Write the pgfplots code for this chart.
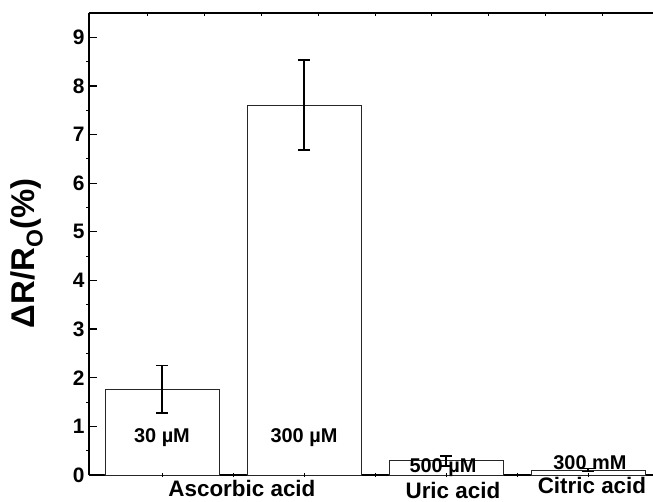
\documentclass[border=0pt]{standalone}
\usepackage{pgfplots}
\pgfplotsset{compat=1.18}
\usepackage{fontspec}
\setmainfont{Liberation Sans}

\pgfplotstableread{
x  y     ep    em
1  1.76  0.49  0.49
2  7.60  0.93  0.92
3  0.29  0.10  0.10
4  0.10  0.03  0.03
}\responsedata

\begin{document}
\begin{tikzpicture}
\begin{axis}[
  at={(0,0)}, anchor=south west,
  scale only axis, width=564bp, height=462bp,
  xmin=0.486, xmax=4.458, ymin=0, ymax=9.5,
  axis x line=bottom, axis y line=left,
  axis line style={-, line width=1.3bp, black},
  clip=false,
  xtick=\empty,
  ytick={0,...,9},
  tick align=inside,
  major tick length=8bp,
  y tick style={line width=1.3bp, black},
  yticklabel style={font=\fontsize{21}{24}\selectfont\bfseries, xshift=-1bp},
  /pgf/number format/assume math mode=true,
  ylabel={\textbf{ΔR/R\textsubscript{O}(\%)}},
  ylabel style={at={(axis description cs:-0.11,0.48)}, anchor=center,
                font=\fontsize{33}{36}\selectfont},
  ybar, bar width=114bp, bar shift=0pt,
]
\addplot[draw=black!85, line width=0.9bp, fill=white,
  error bars/.cd, y dir=both, y explicit,
  error bar style={line width=1.6bp, black},
  error mark options={rotate=90, line width=1.6bp, black, mark size=6bp}]
  table[x=x, y=y, y error plus=ep, y error minus=em] {\responsedata};

% frame: top spine and small ticks
\draw[line width=1.3bp] (rel axis cs:0,1) -- (rel axis cs:1,1);
\pgfplotsinvokeforeach{0.9,1.3,1.7,2.1,2.5,2.9,3.3,3.7,4.1}{
  \draw[line width=0.8bp] (axis cs:#1,9.5) -- ++(0bp,-2.5bp);
}
\pgfplotsinvokeforeach{1,1.5,2,2.5,3,3.5,4}{
  \draw[line width=0.8bp] (axis cs:#1,0) ++(0bp,-2bp) -- ++(0bp,4bp);
}
\pgfplotsinvokeforeach{0.5,1.5,2.5,3.5,4.5,5.5,6.5,7.5,8.5}{
  \draw[line width=0.8bp] (axis cs:0.486,#1) -- ++(-2.5bp,0bp);
}

% concentrations
\begin{scope}[font=\fontsize{20}{23}\selectfont\bfseries]
\node at (axis cs:1,0.76) {30 µM};
\node at (axis cs:2,0.76) {300 µM};
\node at (axis cs:2.979,0.16) {500 µM};
\node at (axis cs:4.014,0.25) {300 mM};
\end{scope}

% compound names
\begin{scope}[font=\fontsize{22.5}{25}\selectfont\bfseries]
\node at ([yshift=-13bp]axis cs:1.563,0) {Ascorbic acid};
\node at ([yshift=-15bp]axis cs:3.049,0) {Uric acid};
\node at ([yshift=-10bp]axis cs:4.028,0) {Citric acid};
\end{scope}
\end{axis}
\pgfresetboundingbox
\path (-89bp,-27bp) rectangle (564bp,475bp);
\end{tikzpicture}
\end{document}
